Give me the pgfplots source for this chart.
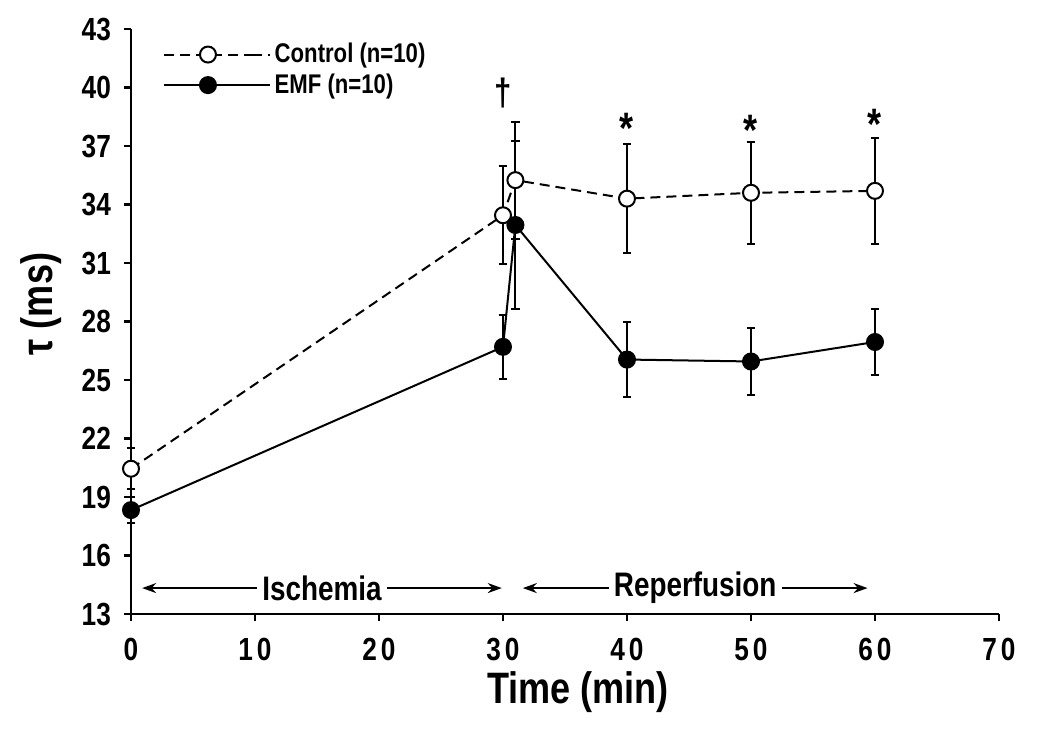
\documentclass[border=0pt]{standalone}
\usepackage{fontspec}
\setmainfont{Liberation Sans}[FakeStretch=0.82]
\usepackage{pgfplots}
\pgfplotsset{compat=1.18}
\usetikzlibrary{arrows.meta}
\begin{document}
\begin{tikzpicture}
\begin{axis}[
 at={(0,0)}, anchor=south west,
 scale only axis, width=434pt, height=292.5pt,
 xmin=0, xmax=70, ymin=13, ymax=43,
 axis x line=bottom, axis y line=left,
 axis line style={-, line width=1.2pt},
 xtick={0,10,...,70}, ytick={13,16,...,43},
 tick align=outside, major tick length=3.5pt,
 tick style={line width=1.2pt, black},
 /pgf/number format/assume math mode=true,
 yticklabel style={font=\fontsize{16}{17}\selectfont\bfseries, xshift=-3pt},
 xticklabel style={font=\fontsize{16}{17}\selectfont\bfseries\addfontfeature{LetterSpace=12}, yshift=-5pt},
 clip=false,
 xlabel={Time (min)},
 ylabel={τ (ms)},
 every axis x label/.style={at={(axis description cs:0.515,0)}, yshift=-39pt, anchor=center, font=\fontsize{22}{24}\selectfont\bfseries},
 every axis y label/.style={at={(axis description cs:0,0.53)}, xshift=-45pt, rotate=90, anchor=center, font=\fontsize{22}{24}\selectfont\bfseries},
 legend cell align=left,
 legend style={draw=none, fill=none, at={(rel axis cs:0.03,0.99)}, anchor=north west,
   font=\fontsize{13.5}{15}\selectfont\bfseries, row sep=0pt,
   /tikz/every even column/.style={column sep=0pt}},
 legend image code/.code={\draw[mark repeat=2,mark phase=2,#1] plot coordinates {(0cm,0cm) (0.765cm,0cm) (1.53cm,0cm)};\path (1.53cm,0cm) -- (1.85cm,0cm);},
]
\addplot[black, line width=1pt, dash pattern=on 5pt off 3pt, mark=*, mark size=4pt,
  mark options={solid, fill=white, line width=1pt},
  error bars/.cd, y dir=both, y explicit,
  error bar style={solid, line width=1pt},
  error mark options={rotate=90, mark size=2.2pt, line width=1pt, solid}]
coordinates {
(0,20.45) +- (0,1.05)
(30,33.45) +- (0,2.5)
(31,35.25) +- (0,3.0)
(40,34.3) +- (0,2.8)
(50,34.6) +- (0,2.6)
(60,34.7) +- (0,2.7)
};
\addlegendentry{Control (n=10)}
\addplot[black, line width=1pt, mark=*, mark size=4pt,
  mark options={solid, fill=black, line width=1pt},
  error bars/.cd, y dir=both, y explicit,
  error bar style={solid, line width=1pt},
  error mark options={rotate=90, mark size=2.2pt, line width=1pt}]
coordinates {
(0,18.33) +- (0,0.65)
(30,26.7) +- (0,1.65)
(31,32.95) +- (0,4.3)
(40,26.05) +- (0,1.9)
(50,25.95) +- (0,1.7)
(60,26.95) +- (0,1.7)
};
\addlegendentry{EMF (n=10)}
\node[font=\fontsize{19}{19}\selectfont\bfseries] at (axis cs:30,39.7) {†};
\node[font=\fontsize{22}{22}\selectfont\bfseries] at (axis cs:40,37.9) {*};
\node[font=\fontsize{22}{22}\selectfont\bfseries] at (axis cs:50,37.8) {*};
\node[font=\fontsize{22}{22}\selectfont\bfseries] at (axis cs:60,38.1) {*};
\draw[line width=0.9pt, {Stealth[length=7pt,width=5pt]}-{Stealth[length=7pt,width=5pt]}] (axis cs:0.9,14.33) -- node[fill=white, inner sep=2.5pt, font=\fontsize{17}{19}\selectfont\bfseries] {Ischemia} (axis cs:29.9,14.33);
\draw[line width=0.9pt, {Stealth[length=7pt,width=5pt]}-{Stealth[length=7pt,width=5pt]}] (axis cs:31.6,14.33) -- node[fill=white, inner sep=2.5pt, font=\fontsize{17}{19}\selectfont\bfseries] {Reperfusion} (axis cs:59.4,14.33);
\end{axis}
\pgfresetboundingbox
\path[use as bounding box] (-65.5pt,-61pt) rectangle (459.5pt,307pt);
\end{tikzpicture}
\end{document}
